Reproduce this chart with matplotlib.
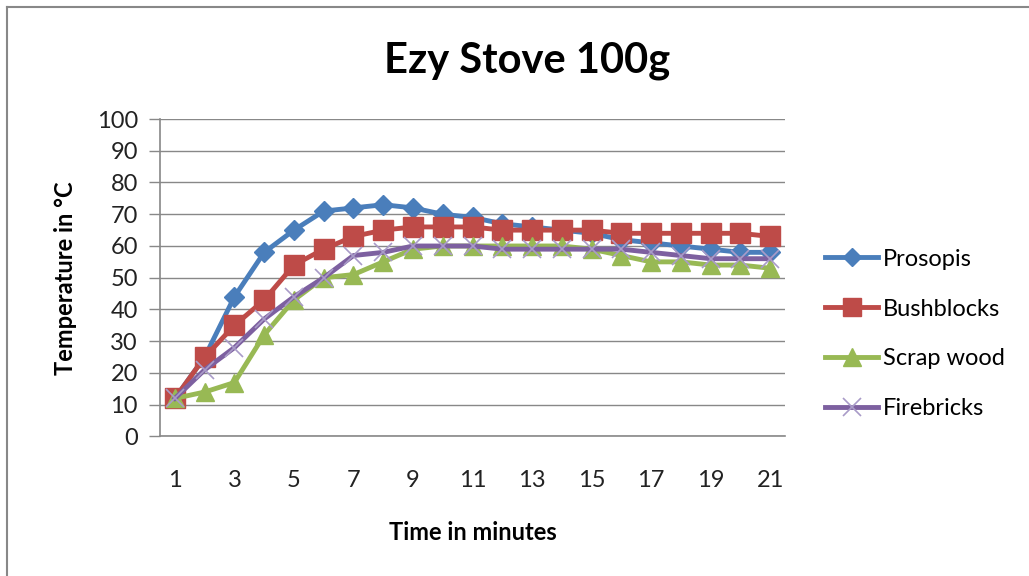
import matplotlib.pyplot as plt
from matplotlib.lines import Line2D

minutes = list(range(1, 22))
prosopis = [12, 25, 44, 58, 65, 71, 72, 73, 72, 70, 69, 67, 66, 65, 64, 62, 61, 60, 59, 58, 58]
bushblocks = [12, 25, 35, 43, 54, 59, 63, 65, 66, 66, 66, 65, 65, 65, 65, 64, 64, 64, 64, 64, 63]
scrap_wood = [12, 14, 17, 32, 43, 50, 51, 55, 59, 60, 60, 60, 60, 60, 59, 57, 55, 55, 54, 54, 53]
firebricks = [12, 21, 28, 37, 44, 50, 57, 58, 60, 60, 60, 59, 59, 59, 59, 59, 58, 57, 56, 56, 56]

font = ['Lato', 'DejaVu Sans']
plt.rcParams['font.family'] = font

fig = plt.figure(figsize=(10.29, 5.76), dpi=100)
ax = fig.add_axes([0.1555, 0.2422, 0.6074, 0.5512])

ax.plot(minutes, prosopis, color='#4A7EBB', lw=3.5, marker='D', ms=10,
        label='Prosopis', zorder=3)
ax.plot(minutes, bushblocks, color='#BE4B48', lw=3.5, marker='s', ms=14,
        label='Bushblocks', zorder=4)
ax.plot(minutes, scrap_wood, color='#98B954', lw=3.5, marker='^', ms=13,
        label='Scrap wood', zorder=5)
ax.plot(minutes, firebricks, color='#7D60A0', lw=3.5, marker='x', ms=13,
        mec='#A99BC8', mew=1.2, label='Firebricks', zorder=6)

ax.set_xlim(0.5, 21.5)
ax.set_ylim(0, 100)
ax.set_yticks(range(0, 101, 10))
ax.set_xticks(minutes[::2])
ax.tick_params(axis='x', length=0, pad=24, labelsize=17, labelcolor='#222222')
ax.tick_params(axis='y', length=8, color='#888888', width=1, labelsize=17,
               labelcolor='#222222', pad=8)
ax.grid(axis='y', color='#888888', lw=1)
ax.set_axisbelow(True)
for side in ['top', 'right']:
    ax.spines[side].set_visible(False)
for side in ['left', 'bottom']:
    ax.spines[side].set_color('#888888')
    ax.spines[side].set_linewidth(1.2)

ax.set_xlabel('Time in minutes', fontsize=17, fontweight='bold', labelpad=22)
ax.set_ylabel('Temperature in \u00b0C', fontsize=17, fontweight='bold', labelpad=14)
fig.text(0.512, 0.895, 'Ezy Stove 100g', ha='center', va='center',
         fontsize=30, fontweight='bold')

handles, labels = ax.get_legend_handles_labels()
ax.legend(handles, labels, loc='center left', bbox_to_anchor=(1.064, 0.323),
          frameon=False, fontsize=17, handlelength=2.25, labelspacing=1.22,
          handletextpad=0.2, borderpad=0, borderaxespad=0, markerscale=0.95)

# outer chart frame
fig.add_artist(Line2D([0.007, 0.007], [0, 0.988], color='#888888', lw=1.5))
fig.add_artist(Line2D([0.007, 1], [0.988, 0.988], color='#888888', lw=1.5))

fig.savefig('out.png', dpi=100)
